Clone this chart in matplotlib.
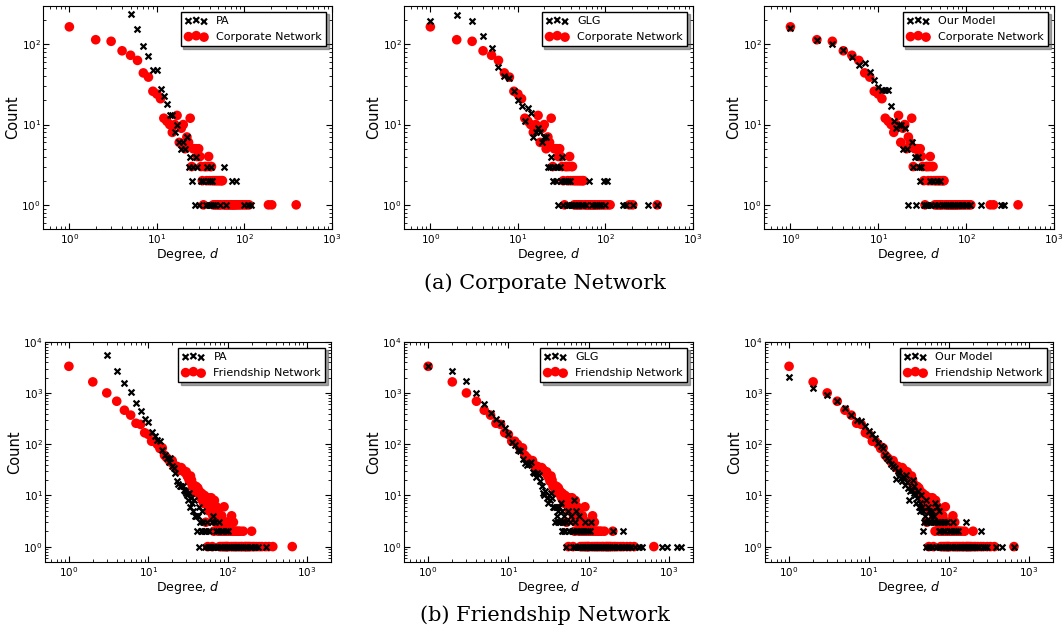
import matplotlib
matplotlib.use("Agg")
import matplotlib.pyplot as plt

# ---- Corporate network (real) ----
corp_deg = [1, 2, 3, 4, 5, 6, 7, 8, 9, 10, 11, 12, 13, 14, 15, 16, 17, 18, 19, 20,
            21, 22, 23, 24, 25, 26, 27, 28, 29, 30, 31, 32, 33, 34, 35, 36, 37, 38, 39, 40,
            41, 42, 43, 44, 45, 46, 47, 48, 49, 50, 51, 52, 53, 54, 55, 56, 58, 60, 62, 64,
            66, 68, 70, 72, 74, 76, 78, 81, 84, 88, 92, 97, 102, 108, 113, 188, 205, 390]
corp_cnt = [165, 114, 109, 83, 73, 63, 44, 39, 26, 24, 21, 12, 11, 10, 8, 10, 13, 6, 9, 10,
            5, 7, 6, 12, 3, 5, 5, 5, 4, 5, 4, 3, 2, 1, 3, 3, 2, 3, 4, 2,
            3, 3, 2, 1, 2, 1, 2, 1, 2, 1, 2, 1, 2, 1, 2, 2, 1, 1, 1, 1,
            1, 1, 1, 1, 1, 1, 1, 1, 1, 1, 1, 1, 1, 1, 1, 1, 1, 1]

pa_corp_deg = [5, 6, 7, 8, 9, 10, 11, 12, 13, 14, 15, 16, 17, 18, 19, 20, 21, 22, 23, 24,
               25, 26, 27, 28, 29, 30, 32, 34, 36, 37, 38, 39, 40, 41, 42, 43, 44, 46, 52, 59,
               62, 72, 80, 100, 110, 118]
pa_corp_cnt = [236, 157, 96, 71, 48, 48, 28, 23, 18, 13, 13, 8, 10, 6, 5, 6, 5, 7, 3, 4,
               2, 3, 1, 4, 3, 1, 2, 2, 1, 3, 2, 1, 2, 1, 3, 2, 1, 1, 1, 3,
               1, 2, 2, 1, 1, 1]

glg_corp_deg = [1, 2, 3, 4, 5, 6, 7, 8, 9, 10, 11, 12, 13, 14, 15, 16, 17, 18, 19, 20,
                21, 22, 23, 24, 25, 26, 27, 28, 29, 30, 31, 32, 33, 34, 35, 36, 37, 38, 39, 40,
                42, 45, 48, 52, 56, 60, 65, 70, 75, 80, 85, 90, 95, 100, 105, 157, 170, 205, 305, 385]
glg_corp_cnt = [196, 233, 196, 128, 89, 52, 40, 38, 26, 20, 17, 11, 16, 14, 7, 8, 9, 8, 6, 7,
                7, 3, 3, 4, 2, 3, 2, 3, 1, 3, 2, 4, 1, 2, 2, 1, 2, 1, 2, 1,
                1, 1, 1, 1, 1, 1, 2, 1, 1, 1, 1, 1, 2, 1, 2, 1, 1, 1, 1, 1]

ours_corp_deg = [1, 2, 3, 4, 5, 6, 7, 8, 9, 10, 11, 12, 13, 14, 15, 16, 17, 18, 19, 20,
                 21, 22, 24, 25, 26, 27, 28, 29, 30, 31, 33, 35, 37, 39, 40, 42, 44, 46, 48, 51,
                 53, 56, 59, 62, 66, 70, 74, 79, 84, 90, 96, 103, 110, 147, 252, 269]
ours_corp_cnt = [159, 113, 101, 85, 70, 55, 58, 45, 36, 29, 27, 27, 27, 17, 11, 9, 10, 10, 5, 9,
                 5, 1, 6, 3, 4, 1, 4, 3, 2, 3, 1, 1, 1, 2, 1, 2, 1, 2, 1, 2,
                 1, 1, 1, 1, 1, 1, 1, 1, 1, 1, 1, 1, 1, 1, 1, 1]

# ---- Friendship network (real) ----
friend_deg = [1, 2, 3, 4, 5, 6, 7, 8, 9, 10, 11, 12, 13, 14, 15, 16, 17, 18, 19, 20,
              21, 22, 23, 24, 25, 26, 27, 28, 29, 30, 31, 32, 33, 34, 35, 36, 37, 38, 39, 40,
              41, 42, 43, 44, 45, 46, 47, 48, 49, 50, 51, 52, 53, 54, 55, 56, 57, 58, 59, 60,
              61, 62, 63, 64, 65, 66, 67, 68, 69, 70, 71, 72, 73, 74, 75, 76, 77, 78, 79, 80,
              81, 82, 83, 84, 85, 86, 87, 88, 89, 90, 91, 92, 93, 94, 95, 96, 97, 98, 99, 100,
              101, 102, 104, 106, 108, 110, 112, 114, 116, 118, 120, 122, 124, 127, 130, 133, 136, 140, 144, 148,
              152, 157, 162, 167, 172, 178, 185, 192, 200, 205, 215, 230, 250, 270, 300, 330, 370, 650]
friend_cnt = [3350, 1660, 1010, 695, 464, 372, 258, 245, 168, 156, 115, 115, 100, 83, 85, 61, 55, 50, 45, 48,
              39, 35, 37, 31, 31, 35, 32, 30, 28, 29, 24, 22, 19, 24, 20, 15, 16, 14, 12, 15,
              13, 14, 11, 12, 10, 9, 11, 8, 9, 7, 10, 8, 3, 9, 7, 1, 9, 5, 8, 7,
              6, 9, 5, 1, 4, 7, 2, 8, 4, 5, 3, 6, 4, 3, 5, 2, 3, 4, 1, 3,
              2, 3, 1, 4, 3, 2, 1, 3, 2, 6, 1, 2, 3, 1, 2, 3, 1, 2, 1, 3,
              2, 1, 2, 3, 2, 1, 4, 2, 1, 3, 2, 1, 2, 1, 2, 1, 2, 1, 2, 1,
              1, 2, 1, 1, 1, 1, 1, 1, 2, 1, 1, 1, 1, 1, 1, 1, 1, 1]

pa_friend_deg = [3, 4, 5, 6, 7, 8, 9, 10, 11, 12, 13, 14, 15, 16, 17, 18, 19, 20, 21, 22,
                 23, 24, 25, 26, 27, 28, 29, 30, 31, 32, 33, 34, 35, 36, 37, 38, 39, 40, 41, 42,
                 43, 44, 45, 46, 47, 48, 49, 50, 52, 54, 55, 56, 58, 60, 62, 63, 65, 66, 68, 70,
                 72, 74, 76, 78, 80, 82, 85, 88, 90, 92, 95, 98, 102, 105, 110, 115, 120, 126, 132, 140,
                 148, 156, 165, 175, 190, 205, 220, 240, 300]
pa_friend_cnt = [5500, 2760, 1590, 1030, 650, 447, 313, 273, 172, 146, 122, 118, 78, 62, 55, 45, 55, 38, 34, 28,
                 19, 17, 15, 15, 15, 13, 12, 11, 10, 8, 11, 6, 9, 7, 5, 8, 4, 4, 2, 4,
                 1, 6, 3, 2, 5, 2, 3, 2, 1, 2, 3, 1, 2, 1, 1, 3, 4, 1, 1, 3,
                 2, 1, 2, 3, 1, 2, 1, 2, 1, 1, 2, 1, 2, 1, 1, 1, 1, 1, 1, 1,
                 1, 1, 1, 1, 1, 1, 1, 1, 1]

glg_friend_deg = [1, 2, 3, 4, 5, 6, 7, 8, 9, 10, 11, 12, 13, 14, 15, 16, 17, 18, 19, 20,
                  21, 22, 23, 24, 25, 26, 27, 28, 29, 30, 31, 32, 33, 34, 35, 36, 37, 38, 39, 40,
                  41, 42, 43, 44, 45, 46, 47, 48, 49, 50, 51, 52, 53, 55, 57, 58, 60, 62, 63, 65,
                  66, 67, 68, 70, 72, 73, 75, 77, 78, 80, 82, 84, 86, 89, 90, 92, 95, 98, 100, 103,
                  105, 108, 110, 115, 120, 125, 130, 136, 142, 150, 158, 166, 175, 185, 195, 203, 210, 225, 240, 260,
                  270, 285, 310, 340, 380, 420, 460, 822, 953, 1273, 1400]
glg_friend_cnt = [3360, 2760, 1720, 1020, 614, 417, 313, 257, 206, 158, 110, 98, 76, 73, 51, 43, 40, 42, 45, 29,
                  27, 23, 28, 25, 19, 15, 11, 10, 12, 9, 7, 10, 8, 11, 9, 6, 6, 3, 6, 4,
                  5, 3, 6, 3, 7, 2, 5, 3, 2, 4, 2, 3, 1, 5, 2, 3, 4, 2, 1, 8,
                  2, 1, 3, 5, 2, 1, 4, 2, 1, 2, 1, 2, 1, 3, 1, 2, 1, 2, 1, 2,
                  1, 3, 1, 1, 1, 1, 1, 1, 1, 1, 1, 1, 1, 1, 1, 2, 1, 1, 1, 1,
                  2, 1, 1, 1, 1, 1, 1, 1, 1, 1, 1]

ours_friend_deg = [1, 2, 3, 4, 5, 6, 7, 8, 9, 10, 11, 12, 13, 14, 15, 16, 17, 18, 19, 20,
                   21, 22, 23, 24, 25, 26, 27, 28, 29, 30, 31, 32, 33, 34, 35, 36, 37, 38, 39, 40,
                   41, 42, 43, 44, 45, 46, 47, 48, 49, 50, 51, 52, 53, 55, 56, 57, 58, 60, 61, 62,
                   63, 65, 66, 67, 68, 70, 72, 74, 75, 76, 78, 80, 82, 84, 86, 88, 90, 92, 95, 97,
                   100, 103, 106, 109, 112, 115, 118, 122, 126, 130, 135, 140, 146, 152, 158, 162, 168, 175, 183, 192,
                   200, 210, 222, 235, 250, 265, 280, 300, 390, 457, 650]
ours_friend_cnt = [2110, 1260, 910, 695, 508, 372, 305, 283, 226, 181, 156, 134, 107, 92, 83, 63, 55, 50, 42, 38,
                   35, 21, 30, 28, 22, 19, 23, 16, 25, 18, 14, 8, 12, 13, 20, 11, 15, 10, 7, 9,
                   12, 6, 7, 5, 10, 6, 2, 5, 3, 4, 1, 8, 3, 6, 1, 5, 3, 4, 1, 5,
                   3, 4, 3, 7, 1, 6, 3, 2, 5, 1, 2, 3, 1, 2, 3, 1, 2, 1, 3, 1,
                   2, 1, 2, 1, 3, 2, 1, 2, 1, 2, 1, 1, 1, 1, 1, 3, 1, 1, 1, 1,
                   1, 1, 1, 1, 2, 1, 1, 1, 1, 1, 1]

W, H = 1063, 636


def axes_rect(left, top, right, bottom):
    # pixel box -> figure fraction
    return [left / W, 1 - bottom / H, (right - left) / W, (bottom - top) / H]


def draw_panel(ax, m_deg, m_cnt, m_label, n_deg, n_cnt, n_label, xmax, ymax):
    ax.scatter(m_deg, m_cnt, marker="x", c="k", s=18, linewidths=1.6,
               label=m_label, zorder=3)
    ax.scatter(n_deg, n_cnt, marker="o", c="red", s=48, edgecolors="none",
               label=n_label, zorder=2)
    ax.set_xscale("log")
    ax.set_yscale("log")
    ax.set_xlim(0.5, xmax)
    ax.set_ylim(0.5, ymax)
    ax.tick_params(which="both", direction="in", top=True, right=True, labelsize=7.5)
    ax.tick_params(which="major", length=4)
    ax.tick_params(which="minor", length=2)
    ax.tick_params(axis="y", which="both", pad=1.5)
    ax.tick_params(axis="x", which="both", pad=2.5)
    ax.set_xlabel("Degree, $d$", fontsize=9, labelpad=0)
    ax.set_ylabel("Count", fontsize=10.5, labelpad=1)
    leg = ax.legend(loc="upper right", scatterpoints=3, fontsize=8, fancybox=False,
                    shadow=True, framealpha=1, edgecolor="k", borderaxespad=0.5)
    leg.get_frame().set_linewidth(1.0)


fig = plt.figure(figsize=(W / 100, H / 100), dpi=100)

ax1 = fig.add_axes(axes_rect(43, 6, 332, 229))
ax2 = fig.add_axes(axes_rect(404, 6, 693, 229))
ax3 = fig.add_axes(axes_rect(764, 6, 1054, 229))
ax4 = fig.add_axes(axes_rect(45, 342, 331, 562))
ax5 = fig.add_axes(axes_rect(404, 342, 693, 562))
ax6 = fig.add_axes(axes_rect(765, 342, 1053, 562))

draw_panel(ax1, pa_corp_deg, pa_corp_cnt, "PA", corp_deg, corp_cnt, "Corporate Network", 1000, 300)
draw_panel(ax2, glg_corp_deg, glg_corp_cnt, "GLG", corp_deg, corp_cnt, "Corporate Network", 1000, 300)
draw_panel(ax3, ours_corp_deg, ours_corp_cnt, "Our Model", corp_deg, corp_cnt, "Corporate Network", 1000, 300)
draw_panel(ax4, pa_friend_deg, pa_friend_cnt, "PA", friend_deg, friend_cnt, "Friendship Network", 2000, 1e4)
draw_panel(ax5, glg_friend_deg, glg_friend_cnt, "GLG", friend_deg, friend_cnt, "Friendship Network", 2000, 1e4)
draw_panel(ax6, ours_friend_deg, ours_friend_cnt, "Our Model", friend_deg, friend_cnt, "Friendship Network", 2000, 1e4)

fig.text(545 / W, 1 - 283 / H, "(a) Corporate Network", ha="center", va="center",
         family="DejaVu Serif", fontsize=15)
fig.text(545 / W, 1 - 615 / H, "(b) Friendship Network", ha="center", va="center",
         family="DejaVu Serif", fontsize=15)

fig.savefig("out.png", dpi=100)
